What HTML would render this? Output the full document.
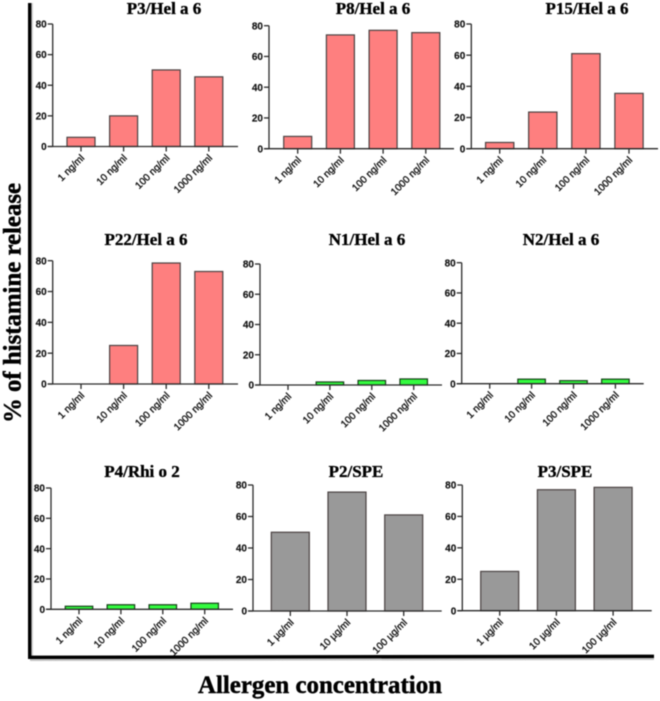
<!DOCTYPE html>
<html lang="en">
<head>
<meta charset="utf-8">
<title>Histamine release by allergen concentration</title>
<style>
html,body{margin:0;padding:0;background:#fff;}
#stage{display:block;filter:blur(0.4px);}
.title{font:bold 17px "Liberation Serif",serif;fill:#000;stroke:#000;stroke-width:.35;text-anchor:middle;}
.ytick{font:bold 10px "Liberation Sans",sans-serif;fill:#111;stroke:#111;stroke-width:.15;text-anchor:end;}
.xtick{font:10px "Liberation Sans",sans-serif;fill:#111;stroke:#111;stroke-width:.35;text-anchor:end;}
.big{font:bold 25px "Liberation Serif",serif;fill:#000;stroke:#000;stroke-width:.45;}
</style>
</head>
<body>
<svg id="stage" xmlns="http://www.w3.org/2000/svg" width="660" height="701" viewBox="0 0 660 701">
  <rect x="30" y="3" width="3" height="656" fill="#d0d0d0"/>
  <polygon points="30,658.5 654,657 654,660 30,661" fill="#c4c4c4"/>
  <rect x="28" y="3" width="3.4" height="656" fill="#000"/>
  <polygon points="28,655.6 654,654.6 654,658 28,659" fill="#000"/>
  <text class="big" transform="translate(20.5,423) rotate(-90)" textLength="240" lengthAdjust="spacingAndGlyphs">% of histamine release</text>
  <text class="big" x="198" y="693" textLength="244" lengthAdjust="spacingAndGlyphs">Allergen concentration</text>
  <g id="panels"></g>
</svg>
<script>
const yTicks = [0, 20, 40, 60, 80];
const ngCategories = ['1 ng/ml', '10 ng/ml', '100 ng/ml', '1000 ng/ml'];
const ugCategories = ['1 \u00b5g/ml', '10 \u00b5g/ml', '100 \u00b5g/ml'];
const p3HelValues = [6, 20, 50, 45.5];
const p8HelValues = [8, 74, 77, 75.5];
const p15HelValues = [4, 23.5, 61, 35.5];
const p22HelValues = [0, 25, 78.5, 73];
const n1HelValues = [0, 2, 3, 4];
const n2HelValues = [0, 3, 2, 3];
const p4RhiValues = [2, 3, 3, 4];
const p2SpeValues = [50, 75.5, 61];
const p3SpeValues = [25, 77, 78.5];

const RED = '#fe7f7f', GREEN = '#33fb3f', GREY = '#999999';
const NS = 'http://www.w3.org/2000/svg';
const root = document.getElementById('panels');

function mk(parent, tag, attrs, text) {
  const el = document.createElementNS(NS, tag);
  for (const k in attrs) el.setAttribute(k, attrs[k]);
  if (text !== undefined) el.textContent = text;
  parent.appendChild(el);
  return el;
}

function drawPanel(title, cats, vals, color, box) {
  const g = mk(root, 'g', {});
  
  

  const yScale = v => box.y0 - (v / 80) * (box.y0 - box.y80);
  const xScale = i => box.firstTick + i * box.step;

  const t = mk(g, 'text', {class: 'title', x: box.titleX, y: box.titleY}, title);
  
  

  vals.forEach((v, i) => {
    if (v <= 0) return;
    const top = yScale(v);
    const bar = mk(g, 'rect', {
      x: xScale(i) - box.barW / 2, y: top, width: box.barW, height: box.y0 - top,
      fill: color, stroke: color === GREEN ? '#143f17' : '#4a4242', 'stroke-width': 1.2
    });
    
    
  });

  const yAxis = mk(g, 'line', {x1: box.axisX, x2: box.axisX, y1: box.y80, y2: box.y0, stroke: '#2a2a2a', 'stroke-width': 1.3});
  
  
  const xAxis = mk(g, 'line', {x1: box.axisX - 5, x2: box.right, y1: box.y0, y2: box.y0, stroke: '#2a2a2a', 'stroke-width': 1.3});
  
  

  yTicks.forEach(v => {
    const y = yScale(v);
    const tick = mk(g, 'line', {x1: box.axisX - 5, x2: box.axisX, y1: y, y2: y, stroke: '#2a2a2a', 'stroke-width': 1.3});
    
    
    const lab = mk(g, 'text', {class: 'ytick', x: box.axisX - 6, y: y + 3.6}, String(v));
    
    
  });

  cats.forEach((c, i) => {
    const x = xScale(i);
    const tick = mk(g, 'line', {x1: x, x2: x, y1: box.y0, y2: box.y0 + 5, stroke: '#2a2a2a', 'stroke-width': 1.3});
    
    
    const lab = mk(g, 'text', {class: 'xtick', transform: 'translate(' + (x + 4) + ',' + (box.y0 + 12) + ') rotate(-45)'}, c);
    
    
  });
}

drawPanel('P3/Hel a 6', ngCategories, p3HelValues, RED, {axisX: 52.7, right: 238, y0: 146.5, y80: 24, firstTick: 81, step: 42.6, barW: 28, titleX: 164, titleY: 14});
drawPanel('P8/Hel a 6', ngCategories, p8HelValues, RED, {axisX: 269, right: 454, y0: 148.7, y80: 25.7, firstTick: 297.7, step: 42.7, barW: 28, titleX: 373, titleY: 14});
drawPanel('P15/Hel a 6', ngCategories, p15HelValues, RED, {axisX: 471.3, right: 658, y0: 148.7, y80: 24, firstTick: 499.7, step: 43.1, barW: 28.3, titleX: 587, titleY: 14});
drawPanel('P22/Hel a 6', ngCategories, p22HelValues, RED, {axisX: 52.7, right: 238, y0: 384, y80: 260.7, firstTick: 81, step: 42.6, barW: 28, titleX: 146, titleY: 245});
drawPanel('N1/Hel a 6', ngCategories, n1HelValues, GREEN, {axisX: 260, right: 442, y0: 385, y80: 264, firstTick: 288, step: 41.9, barW: 27.5, titleX: 367, titleY: 245});
drawPanel('N2/Hel a 6', ngCategories, n2HelValues, GREEN, {axisX: 461.7, right: 643.7, y0: 383.7, y80: 262.7, firstTick: 489.7, step: 41.9, barW: 27.5, titleX: 561, titleY: 245});
drawPanel('P4/Rhi o 2', ngCategories, p4RhiValues, GREEN, {axisX: 51, right: 233, y0: 609.3, y80: 488, firstTick: 79, step: 41.9, barW: 27.5, titleX: 142, titleY: 477});
drawPanel('P2/SPE', ugCategories, p2SpeValues, GREY, {axisX: 253, right: 441.7, y0: 611, y80: 485, firstTick: 290.3, step: 56.7, barW: 38, titleX: 356, titleY: 477});
drawPanel('P3/SPE', ugCategories, p3SpeValues, GREY, {axisX: 462.3, right: 651.7, y0: 610.7, y80: 485, firstTick: 499.7, step: 56.7, barW: 38, titleX: 565, titleY: 477});
</script>
</body>
</html>
